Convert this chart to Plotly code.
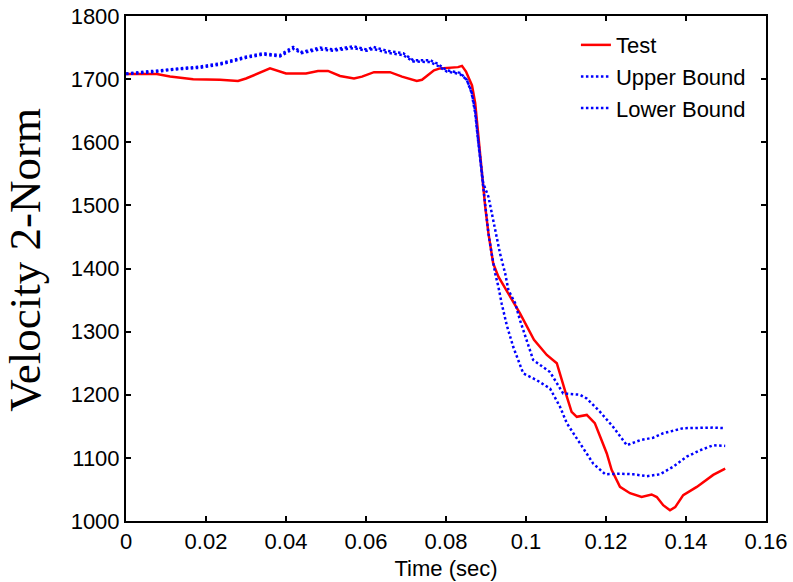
import plotly.graph_objects as go

# Test curve
t_test = [0, 0.0077, 0.011, 0.0168, 0.0235, 0.028, 0.030, 0.036, 0.040, 0.045, 0.048, 0.0505,
          0.0535, 0.057, 0.059, 0.062, 0.066, 0.069, 0.0727, 0.074, 0.077, 0.0785, 0.083, 0.084,
          0.085, 0.0865, 0.0873, 0.088, 0.0889, 0.0898, 0.0906, 0.0918, 0.0931, 0.096, 0.0985,
          0.102, 0.1052, 0.1077, 0.1089, 0.1102, 0.1114, 0.1127, 0.1152, 0.1172, 0.1189, 0.1202,
          0.1214, 0.1235, 0.126, 0.1289, 0.1314, 0.1327, 0.1343, 0.136, 0.1373, 0.1393, 0.1427,
          0.1468, 0.1498]
v_test = [1708, 1708, 1704, 1700, 1699, 1697, 1701, 1717, 1709, 1709, 1713, 1713,
          1705, 1701, 1704, 1711, 1711, 1704, 1697, 1699, 1714, 1717, 1719, 1721,
          1712, 1690, 1662, 1614, 1551, 1498, 1456, 1408, 1387, 1355, 1329,
          1287, 1263, 1250, 1223, 1197, 1173, 1165, 1168, 1155, 1128, 1107,
          1081, 1054, 1044, 1038, 1042, 1038, 1025, 1017, 1022, 1041, 1054,
          1073, 1083]

# Upper bound
t_upper = [0, 0.0068, 0.0118, 0.0185, 0.0235, 0.0268, 0.0302, 0.0343, 0.0385, 0.0402, 0.0418,
           0.0439, 0.0485, 0.0518, 0.0568, 0.0602, 0.0618, 0.0652, 0.0693, 0.0718, 0.076, 0.0777,
           0.0802, 0.0835, 0.0852, 0.0864, 0.0873, 0.0881, 0.0893, 0.0906, 0.0914, 0.0923, 0.0935,
           0.0948, 0.0956, 0.0973, 0.0985, 0.1018, 0.106, 0.1093, 0.1135, 0.1152, 0.1185, 0.1218,
           0.1252, 0.1285, 0.1318, 0.1343, 0.1393, 0.1468, 0.1498]
v_upper = [1709, 1713, 1716, 1720, 1725, 1731, 1736, 1741, 1738, 1745, 1751,
           1743, 1750, 1747, 1752, 1747, 1751, 1745, 1741, 1730, 1730, 1725,
           1714, 1710, 1699, 1680, 1650, 1600, 1535, 1514, 1490, 1464, 1424,
           1392, 1366, 1345, 1318, 1255, 1236, 1202, 1200, 1194, 1173, 1149,
           1120, 1128, 1132, 1139, 1147, 1148, 1147]

# Lower bound
t_lower = [0, 0.0068, 0.0118, 0.0185, 0.0235, 0.0268, 0.0302, 0.0343, 0.0385, 0.0402, 0.0418,
           0.0439, 0.0485, 0.0518, 0.0568, 0.0602, 0.0618, 0.0652, 0.0693, 0.0718, 0.076, 0.0777,
           0.0802, 0.0835, 0.0852, 0.0864, 0.0873, 0.0881, 0.0889, 0.0898, 0.0906, 0.0914, 0.0923,
           0.0931, 0.0939, 0.0952, 0.0968, 0.0993, 0.1027, 0.106, 0.1085, 0.1102, 0.1135, 0.1168,
           0.1198, 0.1235, 0.1268, 0.1302, 0.1335, 0.1368, 0.1402, 0.1435, 0.1468, 0.1498]
v_lower = [1708, 1711, 1715, 1718, 1723, 1729, 1734, 1739, 1736, 1742, 1748,
           1741, 1747, 1745, 1749, 1745, 1748, 1742, 1738, 1728, 1727, 1722,
           1712, 1708, 1699, 1678, 1646, 1598, 1551, 1498, 1456, 1424, 1392,
           1371, 1345, 1310, 1276, 1234, 1223, 1210, 1181, 1155, 1123, 1091,
           1074, 1075, 1074, 1071, 1074, 1086, 1102, 1112, 1120, 1119]

x_ticks = [0, 0.02, 0.04, 0.06, 0.08, 0.1, 0.12, 0.14, 0.16]
x_tick_text = ["0", "0.02", "0.04", "0.06", "0.08", "0.1", "0.12", "0.14", "0.16"]
y_ticks = [1000, 1100, 1200, 1300, 1400, 1500, 1600, 1700, 1800]

SANS = "Liberation Sans, Arial, sans-serif"
DOT = "2.5px,2.5px"

fig = go.Figure()
fig.add_trace(go.Scatter(x=t_test, y=v_test, mode="lines", name="Test",
                         line=dict(color="#ff0000", width=2.5)))
fig.add_trace(go.Scatter(x=t_upper, y=v_upper, mode="lines", name="Upper Bound",
                         line=dict(color="#0000ff", width=2.5, dash=DOT)))
fig.add_trace(go.Scatter(x=t_lower, y=v_lower, mode="lines", name="Lower Bound",
                         line=dict(color="#0000ff", width=2.5, dash=DOT)))

axis_common = dict(showgrid=False, zeroline=False, showline=True, linecolor="black",
                   linewidth=2, mirror="ticks", ticks="inside", ticklen=5, tickwidth=1.5,
                   tickcolor="black", automargin=False,
                   tickfont=dict(family=SANS, size=22, color="black"))

fig.update_xaxes(range=[0, 0.16], tickvals=x_ticks, ticktext=x_tick_text,
                 title=dict(text="Time (sec)", font=dict(family=SANS, size=22, color="black"),
                            standoff=7),
                 **axis_common)
fig.update_yaxes(range=[1000, 1800], tickvals=y_ticks, **axis_common)

fig.add_annotation(text="Velocity 2-Norm", textangle=-90, showarrow=False,
                   xref="paper", yref="paper", x=-0.158, y=0.517,
                   xanchor="center", yanchor="middle",
                   font=dict(family="Liberation Serif, Times New Roman, serif", size=45, color="black"))

fig.update_layout(
    width=793, height=582,
    margin=dict(l=126, r=27, t=16, b=61, autoexpand=False),
    paper_bgcolor="white", plot_bgcolor="white",
    showlegend=True,
    legend=dict(x=0.703, y=0.984, xanchor="left", yanchor="top",
                bgcolor="rgba(0,0,0,0)", borderwidth=0, tracegroupgap=0,
                font=dict(family=SANS, size=22, color="black")),
)

fig.write_html("out.html")
